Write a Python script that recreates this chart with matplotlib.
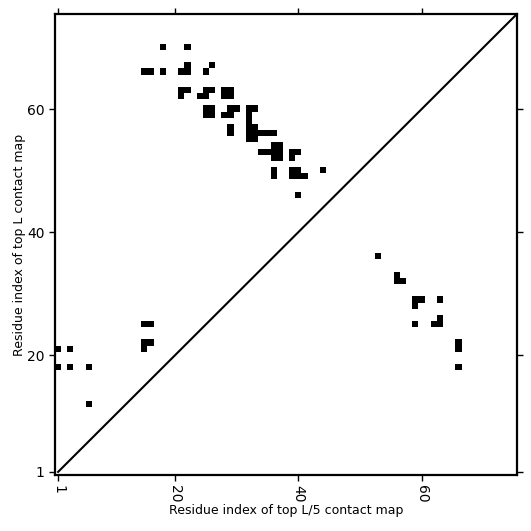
import numpy as np
import matplotlib
matplotlib.use("Agg")
import matplotlib.pyplot as plt

L = 75
# Top L contacts (0-based residue indices, i < j)
top_L_i = [17, 21,
           21, 25,
           14, 15, 17, 20, 21, 24,
           20, 21, 24, 25, 27, 28,
           20, 23, 24, 27, 28,
           24, 25, 28, 29, 31, 32,
           24, 25, 27, 28, 31,
           31,
           28, 31, 32,
           28, 31, 32, 33, 34, 35,
           31, 32,
           35, 36,
           33, 34, 35, 36, 38, 39,
           35, 36, 38,
           35, 38, 39, 43,
           35, 38, 39, 40,
           39,
           14, 15,
           14, 15,
           0, 2, 14,
           0, 2, 5,
           5]
top_L_j = [69, 69,
           66, 66,
           65, 65, 65, 65, 65, 65,
           62, 62, 62, 62, 62, 62,
           61, 61, 61, 61, 61,
           59, 59, 59, 59, 59, 59,
           58, 58, 58, 58, 58,
           57,
           56, 56, 56,
           55, 55, 55, 55, 55, 55,
           54, 54,
           53, 53,
           52, 52, 52, 52, 52, 52,
           51, 51, 51,
           49, 49, 49, 49,
           48, 48, 48, 48,
           45,
           24, 24,
           21, 21,
           20, 20, 20,
           17, 17, 17,
           11]

# Top L/5 contacts (0-based residue indices, i < j)
top_L5_i = [35, 32, 31, 31, 28, 28, 27, 28, 24, 24, 24, 25, 21, 20, 17]
top_L5_j = [52, 55, 55, 56, 58, 59, 58, 62, 58, 61, 62, 62, 65, 65, 65]

tick_pos = [0, 19, 39, 59]
tick_labels = ["1", "20", "40", "60"]

mat = np.zeros((L, L))
for i, j in zip(top_L_i, top_L_j):
    mat[j, i] = 1      # upper-left triangle (row = y)
for i, j in zip(top_L5_i, top_L5_j):
    mat[i, j] = 1      # lower-right triangle

fig = plt.figure(figsize=(5.31, 5.31), dpi=100)
ax = fig.add_axes([0.1036, 0.1055, 0.870, 0.8682])
ax.imshow(mat, cmap="binary", interpolation="nearest", origin="lower",
          vmin=0, vmax=1, aspect="auto")
ax.plot([0, L], [0, L], color="black", linewidth=1.5)
ax.set_xlim(-0.5, L - 0.5)
ax.set_ylim(-0.5, L - 0.5)

ax.set_xticks(tick_pos)
ax.set_xticklabels(tick_labels, rotation=270, fontsize=10)
ax.set_yticks(tick_pos)
ax.set_yticklabels(tick_labels, fontsize=10)
ax.tick_params(direction="out", length=4, width=1, top=True, right=True,
               labeltop=False, labelright=False)
for s in ax.spines.values():
    s.set_linewidth(1.6)

ax.set_xlabel("Residue index of top L/5 contact map", fontsize=9, labelpad=0.5)
ax.set_ylabel("Residue index of top L contact map", fontsize=9, labelpad=0.5)

fig.savefig("out.png", dpi=100)
